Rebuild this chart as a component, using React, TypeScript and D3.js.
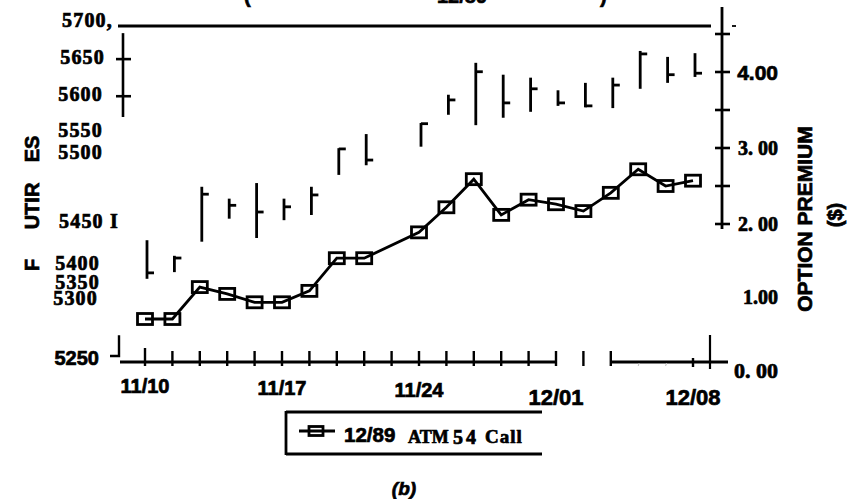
import React from "react";
import * as d3 from "d3";

// ---------- data ----------
const tradeDates = ["11/10","11/13","11/14","11/15","11/16","11/17","11/20","11/21","11/22","11/24","11/27","11/28","11/29","11/30","12/01","12/04","12/05","12/06","12/07","12/08"];
const futHigh = [5406,5385,5478,5462,5483,5462,5478,5530,5549,5564,5602,5645,5629,5625,5608,5618,5625,5661,5653,5658];
const futLow = [5354,5363,5404,5435,5409,5433,5440,5494,5507,5532,5575,5561,5571,5579,5587,5585,5584,5610,5618,5626];
const futClose = [5362,5382,5468,5453,5444,5451,5467,5529,5514,5563,5595,5633,5591,5610,5591,5587,5615,5657,5629,5631];
const premium = [0.75,0.75,1.17,1.08,0.97,0.97,1.12,1.55,1.55,1.89,2.22,2.59,2.12,2.32,2.26,2.17,2.41,2.72,2.50,2.57];

const leftTickLabels = ["5250","5300","5350","5400","5450 I","5500","5550","5600","5650","5700,"];
const leftTickValues = [5250,5300,5350,5400,5450,5500,5550,5600,5650,5700];
const rightTickValues = [2, 2.5, 3, 3.5, 4, 4.5];
const rightLabels = ["0. 00","1.00","2. 00","3. 00","4.00"];
const rightLabelValues = [0, 1, 2, 3, 4];
const xLabelDates = ["11/10","11/17","11/24","12/01","12/08"];
const legendLabel = ["12/89", "ATM", "54", "Call"];

// ---------- layout ----------
const W = 859, H = 499;
const SERIF = "'Liberation Serif','Times New Roman',serif";
const SANS = "'Liberation Sans',Arial,sans-serif";
const BASE_Y = 362;
// label centres of the (scanned, uneven) left axis labels
const leftLabelCentres = [358, 298, 282, 263, 221, 152, 130, 94, 57, 20];
const leftLabelRight = [99, 98, 100, 100, 119, 103, 103, 103, 105, 113];
const leftLabelSans = [true, false, false, false, false, false, false, false, false, false];
const TS = { stroke: "#000", strokeWidth: 0.7 } as const;

export default function App() {
  const axisDays = d3
    .timeDay.range(new Date(1989, 10, 10), new Date(1989, 11, 9))
    .filter((d) => d.getDay() % 6 !== 0)
    .map((d) => d3.timeFormat("%m/%d")(d));
  const x = d3.scalePoint<string>().domain(axisDays).range([145, 693]);
  const yF = d3.scaleLinear().domain([5250, 5700]).range([356, 22]);
  const yP = d3.scaleLinear().domain([0, 4.5]).range([376, 34]);
  const yLabel = d3.scaleLinear().domain(leftTickValues).range(leftLabelCentres);
  const xLabelRight = d3.scaleLinear().domain(leftTickValues).range(leftLabelRight);

  const line = d3
    .line<number>()
    .x((_, i) => x(tradeDates[i])!)
    .y((d) => yP(d));

  const tickIdx = d3.range(0, 18);
  const xs = (i: number) => x(axisDays[i])!;
  const sw = 2.8;

  return (
    <svg width={W} height={H} style={{ position: "absolute", left: 0, top: 0, background: "#fff" }}>
      {/* cut-off title remnants */}
      <g fontFamily={SANS} fontWeight="bold" fontSize={20} fill="#000" {...TS}>
        <text x={244} y={3}>(</text>
        <text x={437} y={3}>12/89</text>
        <text x={600} y={3}>)</text>
      </g>

      {/* top frame line */}
      <line x1={118} x2={711} y1={26} y2={26} stroke="#000" strokeWidth={2.8} />

      {/* left axis fragments */}
      <line x1={123} x2={123} y1={yF(5685)} y2={yF(5572)} stroke="#000" strokeWidth={2.6} />
      {[5650, 5600].map((v) => (
        <line key={v} x1={116} x2={131} y1={yF(v)} y2={yF(v)} stroke="#000" strokeWidth={2.6} />
      ))}
      <path d={`M110,${yF(5250)}H119V${yF(5278)}`} fill="none" stroke="#000" strokeWidth={2.4} />

      {/* left axis labels */}
      {leftTickValues.map((v, i) => (
        <text
          key={v}
          x={xLabelRight(v)}
          y={yLabel(v)}
          dy="0.36em"
          textAnchor="end"
          fontFamily={leftLabelSans[i] ? SANS : SERIF}
          fontWeight="bold"
          fontSize={20}
          letterSpacing={leftLabelSans[i] ? 0 : 1.2}
          fill="#000"
          {...TS}
        >
          {leftTickLabels[i]}
        </text>
      ))}

      {/* left title (as scanned) */}
      <g fontFamily={SANS} fontWeight="bold" fontSize={20} fill="#000" {...TS}>
        <text transform={`translate(39,265) rotate(-90)`} textAnchor="middle">F</text>
        <text transform={`translate(39,206) rotate(-90)`} textAnchor="middle">UTIR</text>
        <text transform={`translate(39,149) rotate(-90)`} textAnchor="middle">ES</text>
      </g>

      {/* HLC bars */}
      {tradeDates.map((d, i) => {
        const cx = x(d)! + 2;
        return (
          <g key={d} stroke="#000" strokeWidth={sw} fill="none">
            <line x1={cx} x2={cx} y1={yF(futHigh[i])} y2={yF(futLow[i])} />
            <line x1={cx} x2={cx + 7} y1={yF(futClose[i])} y2={yF(futClose[i])} />
          </g>
        );
      })}

      {/* option premium line */}
      <path d={line(premium)!} fill="none" stroke="#000" strokeWidth={2.8} />
      {premium.map((v, i) => (
        <rect
          key={i}
          x={x(tradeDates[i])! - 7.5}
          y={yP(v) - 5.5}
          width={15}
          height={11}
          fill="none"
          stroke="#000"
          strokeWidth={2.8}
        />
      ))}

      {/* x axis */}
      <g stroke="#000" strokeWidth={2.8}>
        <line x1={120} x2={xs(15)} y1={BASE_Y} y2={BASE_Y} />
        <line x1={xs(17)} x2={728} y1={BASE_Y} y2={BASE_Y} />
        {tickIdx.map((i) => (
          <line key={i} x1={xs(i)} x2={xs(i)} y1={BASE_Y - (i === 0 ? 14 : 11)} y2={BASE_Y + 4} strokeWidth={2.4} />
        ))}
        <line x1={xs(20)} x2={xs(20)} y1={BASE_Y - 4} y2={BASE_Y + 5} strokeWidth={2.4} />
        <line x1={710} x2={710} y1={335} y2={369} strokeWidth={2.2} />
      </g>
      <g stroke="#bbb" strokeWidth={1}>
        <line x1={xs(18)} x2={xs(18) + 1} y1={BASE_Y + 4} y2={BASE_Y + 1} />
        <line x1={xs(19)} x2={xs(19) + 1} y1={BASE_Y + 4} y2={BASE_Y + 1} />
      </g>
      {xLabelDates.map((d, i) => (
        <text
          key={d}
          x={x(d)!}
          y={i < 3 ? 393 + i * 2 : 405}
          textAnchor="middle"
          fontFamily={SANS}
          fontWeight="bold"
          fontSize={i < 3 ? 20 : 22}
          fill="#000"
          {...TS}
        >
          {d}
        </text>
      ))}

      {/* right axis */}
      <g stroke="#000" strokeWidth={2.8}>
        <line x1={722} x2={722} y1={7} y2={yP(2) + 5} />
        {rightTickValues.map((v) => (
          <line key={v} x1={715} x2={730} y1={yP(v)} y2={yP(v)} strokeWidth={2.6} />
        ))}
        <line x1={732} x2={736} y1={26} y2={26} strokeWidth={1.8} />
      </g>
      {rightLabelValues.map((v, i) => (
        <text
          key={v}
          x={778}
          y={v === 0 ? yP(v) - 6 : v === 1 ? yP(v) - 3 : yP(v)}
          dy="0.36em"
          textAnchor="end"
          fontFamily={v === 4 ? SANS : SERIF}
          fontWeight="bold"
          fontSize={v === 4 ? 21 : v === 0 ? 22 : 20}
          fill="#000"
          {...TS}
        >
          {rightLabels[i]}
        </text>
      ))}
      <text
        transform="translate(812,219) rotate(-90)"
        textAnchor="middle"
        fontFamily={SANS}
        fontWeight="bold"
        fontSize={21}
        fill="#000"
        {...TS}
      >
        OPTION PREMIUM
      </text>
      <text
        transform="translate(842,215) rotate(-90)"
        textAnchor="middle"
        fontFamily={SANS}
        fontWeight="bold"
        fontSize={20}
        fill="#000"
        {...TS}
      >
        ($)
      </text>

      {/* legend */}
      <g stroke="#000" strokeWidth={2.8}>
        <line x1={286} x2={542} y1={412} y2={412} />
        <line x1={286} x2={542} y1={454} y2={454} />
        <line x1={286} x2={286} y1={411} y2={455} />
        <line x1={299} x2={335} y1={431} y2={431} />
        <rect x={309} y={426.5} width={14} height={9} fill="none" />
      </g>
      <text x={344} y={442} fontFamily={SANS} fontWeight="bold" fontSize={20.5} fill="#000" {...TS}>{legendLabel[0]}</text>
      <text x={408} y={443} fontFamily={SERIF} fontWeight="bold" fontSize={18} fill="#000" {...TS}>{legendLabel[1]}</text>
      <text x={453} y={444} fontFamily={SERIF} fontWeight="bold" fontSize={20} letterSpacing={3} fill="#000" {...TS}>{legendLabel[2]}</text>
      <text x={485} y={443} fontFamily={SERIF} fontWeight="bold" fontSize={19} letterSpacing={1} fill="#000" {...TS}>{legendLabel[3]}</text>

      <text x={404} y={495} textAnchor="middle" fontFamily={SANS} fontWeight="bold" fontStyle="italic" fontSize={19} fill="#000" {...TS}>
        (b)
      </text>
    </svg>
  );
}
